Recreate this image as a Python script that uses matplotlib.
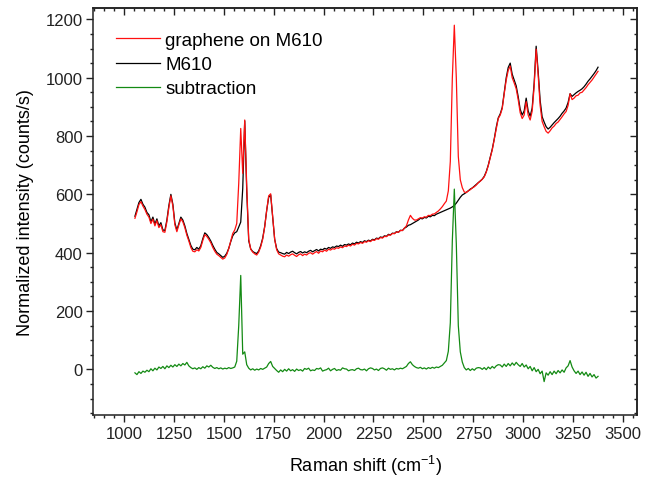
import numpy as np
import matplotlib
matplotlib.use('Agg')
import matplotlib.pyplot as plt
from matplotlib.ticker import MultipleLocator, NullFormatter

plt.rcParams['font.family'] = ['Liberation Sans', 'DejaVu Sans']
plt.rcParams['mathtext.default'] = 'regular'

# Raman shift grid (cm^-1), 10 cm^-1 steps
shift = np.arange(1055, 3376, 10)

# M610 spectrum
m610 = [
    525, 548, 572, 583, 566, 556, 538, 530, 506, 522,
    498, 516, 492, 503, 478, 476, 512, 562, 600, 566,
    502, 478, 500, 522, 512, 492, 466, 446, 425, 412,
    410, 418, 412, 424, 448, 468, 462, 452, 440, 425,
    412, 401, 396, 390, 384, 388, 398, 415, 438, 458,
    468, 472, 488, 505, 620, 852, 612, 441, 413, 404,
    400, 397, 406, 424, 450, 490, 545, 590, 598, 522,
    446, 414, 402, 400, 397, 395, 401, 397, 402, 405,
    400, 396, 401, 404, 399, 403, 400, 405, 408, 403,
    407, 411, 406, 412, 410, 415, 412, 418, 415, 420,
    418, 423, 421, 426, 422, 428, 426, 430, 427, 433,
    430, 436, 433, 438, 435, 441, 438, 443, 440, 446,
    444, 450, 448, 454, 452, 458, 456, 463, 461, 467,
    466, 472, 470, 477, 476, 484, 488, 494, 496, 500,
    504, 508, 512, 518, 516, 521, 519, 525, 523, 528,
    527, 532, 535, 538, 541, 544, 547, 550, 553, 557,
    562, 570, 580, 590, 598, 602, 607, 612, 618, 622,
    628, 634, 640, 646, 652, 662, 678, 700, 728, 755,
    790, 830, 862, 876, 898, 950, 1000, 1035, 1050, 1012,
    992, 972, 935, 892, 872, 886, 930, 886, 868, 896,
    982, 1108, 1022, 922, 866, 848, 832, 824, 830, 838,
    846, 853, 860, 868, 878, 886, 896, 915, 945, 936,
    942, 948, 953, 957, 962, 969, 978, 988, 996, 1005,
    1014, 1024, 1036,
]

# graphene on M610 spectrum
graphene = [
    518, 540, 565, 575, 560, 548, 532, 522, 500, 515,
    492, 510, 486, 496, 472, 470, 506, 555, 595, 560,
    496, 472, 495, 516, 506, 486, 460, 440, 418, 405,
    403, 410, 406, 418, 442, 462, 456, 446, 434, 418,
    405, 395, 390, 384, 378, 382, 394, 414, 440, 466,
    478, 500, 638, 826, 672, 855, 628, 446, 412, 402,
    396, 392, 402, 420, 446, 488, 545, 595, 602, 524,
    446, 410, 396, 392, 388, 386, 392, 388, 393, 396,
    391, 387, 393, 396, 390, 395, 392, 398, 400, 395,
    400, 404, 398, 406, 403, 409, 405, 412, 409, 414,
    412, 417, 415, 420, 417, 423, 421, 426, 423, 429,
    426, 432, 430, 435, 432, 438, 436, 441, 438, 444,
    442, 448, 446, 452, 450, 456, 455, 461, 460, 466,
    465, 471, 470, 476, 476, 484, 492, 512, 528, 518,
    512, 512, 516, 520, 519, 523, 522, 528, 527, 532,
    533, 538, 543, 550, 558, 568, 577, 612, 713, 997,
    1180, 1000, 730, 650, 623, 608, 606, 612, 616, 622,
    626, 632, 640, 645, 652, 660, 676, 698, 726, 752,
    788, 826, 860, 872, 894, 945, 992, 1025, 1040, 1000,
    982, 962, 925, 880, 860, 872, 918, 872, 855, 885,
    970, 1098, 1010, 905, 850, 832, 816, 810, 818, 828,
    834, 843, 848, 857, 866, 876, 884, 905, 945, 925,
    930, 938, 940, 948, 950, 958, 966, 976, 984, 992,
    1002, 1012, 1022,
]

# subtraction spectrum
subtraction = [
    -12, -18, -8, -14, -6, -10, -3, -8, 2, -5,
    4, -2, 8, 3, 10, 2, 12, 6, 14, 8,
    16, 10, 18, 12, 20, 15, 24, 12, 6, 2,
    5, 0, 6, 2, 9, 4, 12, 8, 14, 7,
    3, 6, 2, 5, 1, 4, 2, 6, 3, 5,
    8, 28, 150, 322, 52, 60, 16, 4, -2, 2,
    -3, 1, -2, 3, 0, 4, 8, 20, 27, 10,
    3, -4, -10, -2, -8, 0, -6, 2, -5, -1,
    -7, 1, -4, -1, -6, 3, 0, 4, -5, -2,
    -4, 3, 1, 5, -6, -3, -1, 4, -5, 0,
    3, -4, -1, -3, 5, 2, 1, -5, -2, -1,
    -4, 2, 4, -1, -2, 1, -5, 2, 5, 3,
    -2, 1, -4, 3, 5, 2, -3, 4, 0, 2,
    -2, 3, 1, 4, 2, 6, 10, 20, 26, 16,
    10, 6, 4, 7, 2, 5, 1, 6, 3, 7,
    4, 8, 6, 10, 14, 22, 30, 62, 160, 440,
    618, 430, 150, 60, 25, 6, -2, 3, -4, 2,
    -3, 4, 6, 5, 0, 6, -1, 8, 2, 10,
    4, 12, 16, 15, 8, 18, 10, 20, 12, 22,
    14, 24, 16, 10, 20, 8, 15, 2, 10, -5,
    6, -8, 0, -15, -6, -42, -12, -20, -8, -18,
    -6, -15, -4, -12, -2, -10, 5, 12, 30, 8,
    -5, -14, -6, -18, -9, -20, -10, -24, -14, -26,
    -18, -30, -24,
]

fig = plt.figure(figsize=(6.46, 4.89), dpi=100)
ax = fig.add_axes([0.144, 0.149, 0.842, 0.832])

ax.plot(shift, graphene, color='#ff1010', lw=0.9, label='graphene on M610', zorder=3)
ax.plot(shift, m610, color='black', lw=0.9, label='M610', zorder=2)
ax.plot(shift, subtraction, color='#138a13', lw=0.9, label='subtraction', zorder=2)

ax.set_xlim(845, 3570)
ax.set_ylim(-157, 1238)
ax.xaxis.set_major_locator(MultipleLocator(250))
ax.xaxis.set_minor_locator(MultipleLocator(50))
ax.yaxis.set_major_locator(MultipleLocator(200))
ax.yaxis.set_minor_locator(MultipleLocator(50))

ax.tick_params(which='both', direction='out', labelsize=12, width=1, colors='#222222')
ax.tick_params(which='major', length=5, pad=2.5)
ax.tick_params(which='minor', length=2.5)
for spine in ax.spines.values():
    spine.set_linewidth(1.1)
    spine.set_color('#222222')

# mirrored ticks on top and right, pointing inward
top = ax.secondary_xaxis('top')
top.xaxis.set_major_locator(MultipleLocator(250))
top.xaxis.set_minor_locator(MultipleLocator(50))
top.xaxis.set_major_formatter(NullFormatter())
top.tick_params(which='both', direction='in', width=1, colors='#222222')
top.tick_params(which='major', length=5)
top.tick_params(which='minor', length=2.5)
right = ax.secondary_yaxis('right')
right.yaxis.set_major_locator(MultipleLocator(200))
right.yaxis.set_minor_locator(MultipleLocator(50))
right.yaxis.set_major_formatter(NullFormatter())
right.tick_params(which='both', direction='in', width=1, colors='#222222')
right.tick_params(which='major', length=5)
right.tick_params(which='minor', length=2.5)
for s in list(top.spines.values()) + list(right.spines.values()):
    s.set_linewidth(1.1)
    s.set_color('#222222')

ax.set_xlabel('Raman shift (cm$^{-1}$)', fontsize=13, labelpad=9)
ax.set_ylabel('Normalized intensity (counts/s)', fontsize=13, labelpad=8)

ax.legend(loc='upper left', bbox_to_anchor=(0.0, 1.0), frameon=False, fontsize=13.5,
          handlelength=2.3, handletextpad=0.3, labelspacing=0.38, borderaxespad=0.85)

plt.savefig('out.png', dpi=100)
